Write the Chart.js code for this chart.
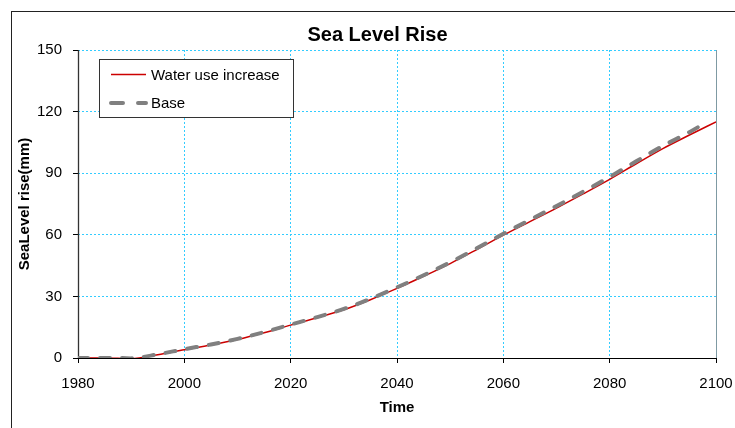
<!DOCTYPE html>
<html>
<head>
<meta charset="utf-8">
<title>Sea Level Rise</title>
<script src="https://cdn.jsdelivr.net/npm/chart.js@4.4.1/dist/chart.umd.min.js"></script>
<style>
  html, body { margin: 0; padding: 0; background: #fff; }
  #wrap { width: 735px; height: 428px; }
</style>
</head>
<body>
<div id="wrap"><canvas id="c" width="735" height="428"></canvas></div>
<script>
// sea level rise (mm) by year
const years = [1980, 1985, 1990, 1995, 2000, 2005, 2010, 2015, 2020, 2025, 2030, 2035, 2040,
               2045, 2050, 2055, 2060, 2065, 2070, 2075, 2080, 2085, 2090, 2095, 2100];
const waterUse = [0, 0, -0.3, 1.6, 4.0, 6.3, 9.0, 12.3, 16.0, 19.6, 23.5, 28.4, 33.9,
                  39.8, 46.0, 52.8, 59.8, 66.4, 73.0, 79.9, 87.0, 94.6, 102.0, 108.6, 115.0];
const baseYears = [1980, 1985, 1990, 1995, 2000, 2005, 2010, 2015, 2020, 2025, 2030, 2035, 2040,
                   2045, 2050, 2055, 2060, 2065, 2070, 2075, 2080, 2085, 2090, 2095, 2098];
const baseRise = [0, 0, -0.2, 1.8, 4.3, 6.6, 9.3, 12.6, 16.3, 19.9, 23.9, 28.8, 34.4,
                  40.3, 46.6, 53.4, 60.5, 67.3, 74.0, 81.0, 88.2, 95.8, 103.3, 110.0, 114.5];
const xTicks = [1980, 2000, 2020, 2040, 2060, 2080, 2100];
const yTicks = [0, 30, 60, 90, 120, 150];

const FONT = '"Liberation Sans", Arial, sans-serif';

const toPoints = (xs, ys) => xs.map((x, i) => ({ x: x, y: ys[i] }));

// solid axis lines under the series
const axisLines = {
    id: 'axisLines',
    beforeDatasetsDraw(chart) {
        const ctx = chart.ctx;
        const a = chart.chartArea;
        const l = Math.round(a.left), b = Math.round(a.bottom), r = Math.round(a.right);
        ctx.save();
        ctx.lineWidth = 1;
        ctx.strokeStyle = '#7f9aa3';
        ctx.beginPath();
        ctx.moveTo(r + 0.5, a.top);
        ctx.lineTo(r + 0.5, b);
        ctx.stroke();
        ctx.strokeStyle = '#333';
        ctx.lineWidth = 1.3;
        ctx.beginPath();
        ctx.moveTo(l + 0.5, a.top);
        ctx.lineTo(l + 0.5, b);
        ctx.stroke();
        ctx.strokeStyle = '#000';
        ctx.lineWidth = 1;
        ctx.beginPath();
        ctx.moveTo(l, b + 0.5);
        ctx.lineTo(r + 1, b + 0.5);
        ctx.stroke();
        ctx.restore();
    }
};

// frame, title and boxed legend drawn over the chart
const decorations = {
    id: 'decorations',
    afterDraw(chart) {
        const ctx = chart.ctx;
        const a = chart.chartArea;
        const ds = chart.data.datasets;
        ctx.save();

        // outer chart border
        ctx.strokeStyle = '#222';
        ctx.lineWidth = 1;
        ctx.strokeRect(11.5, 11.5, 760, 440);

        // title
        ctx.fillStyle = '#000';
        ctx.font = 'bold 20px ' + FONT;
        ctx.textAlign = 'center';
        ctx.textBaseline = 'middle';
        ctx.fillText('Sea Level Rise', 377.5, 35);

        // legend
        const lx = Math.round(a.left) + 21, ly = Math.round(a.top) + 9;
        ctx.fillStyle = '#fff';
        ctx.fillRect(lx, ly, 194, 58);
        ctx.strokeStyle = '#333';
        ctx.strokeRect(lx + 0.5, ly + 0.5, 194, 58);

        const rows = [ds[1], ds[0]];
        rows.forEach((d, i) => {
            const y = ly + 15.5 + i * 28.5;
            ctx.save();
            ctx.strokeStyle = d.borderColor;
            ctx.lineWidth = d.borderWidth;
            ctx.lineCap = d.borderCapStyle || 'butt';
            ctx.setLineDash(d.borderDash && d.borderDash.length ? [12, 15] : []);
            ctx.beginPath();
            ctx.moveTo(lx + 12, y);
            ctx.lineTo(lx + 47, y);
            ctx.stroke();
            ctx.restore();
            ctx.fillStyle = '#000';
            ctx.font = '15px ' + FONT;
            ctx.textAlign = 'left';
            ctx.textBaseline = 'middle';
            ctx.fillText(d.label, lx + 52, y + 1);
        });
        ctx.restore();
    }
};

new Chart(document.getElementById('c'), {
    type: 'line',
    data: {
        datasets: [
            {
                label: 'Base',
                data: toPoints(baseYears, baseRise),
                borderColor: '#808080',
                borderWidth: 4,
                borderDash: [10, 12],
                borderCapStyle: 'round',
                pointRadius: 0,
                cubicInterpolationMode: 'monotone',
                order: 0
            },
            {
                label: 'Water use increase',
                data: toPoints(years, waterUse),
                borderColor: '#cc0000',
                borderWidth: 1.5,
                pointRadius: 0,
                cubicInterpolationMode: 'monotone',
                order: 1
            }
        ]
    },
    options: {
        responsive: false,
        animation: false,
        layout: { padding: { left: 0, top: 50, right: 19, bottom: 0 } },
        plugins: {
            legend: { display: false },
            title: { display: false },
            tooltip: { enabled: false }
        },
        scales: {
            x: {
                type: 'linear',
                min: 1980,
                max: 2100,
                afterBuildTicks: s => { s.ticks = xTicks.map(v => ({ value: v })); },
                afterFit: s => { s.height = 70; s.paddingLeft = 0; s.paddingRight = 0; },
                ticks: { color: '#000', padding: 12, maxRotation: 0, font: { family: FONT, size: 15 }, callback: v => String(v) },
                grid: { color: '#33ccff', lineWidth: 1, tickLength: 5, tickColor: '#000', tickBorderDash: [] },
                border: { display: false, dash: [2, 2] },
                title: { display: true, text: 'Time', color: '#000', font: { family: FONT, size: 15, weight: 'bold' }, padding: { top: 0, bottom: 11 } }
            },
            y: {
                type: 'linear',
                min: 0,
                max: 150,
                afterBuildTicks: s => { s.ticks = yTicks.map(v => ({ value: v })); },
                afterFit: s => { s.width = 78; s.paddingTop = 0; s.paddingBottom = 0; },
                ticks: { color: '#000', padding: 11, font: { family: FONT, size: 15 }, callback: v => String(v) },
                grid: { color: '#33ccff', lineWidth: 1, tickLength: 5, tickColor: '#000', tickBorderDash: [] },
                border: { display: false, dash: [2, 2] },
                title: { display: true, text: 'SeaLevel rise(mm)', color: '#000', font: { family: FONT, size: 15, weight: 'bold' }, padding: { top: 16, bottom: 0 } }
            }
        }
    },
    plugins: [axisLines, decorations]
});
</script>
</body>
</html>
